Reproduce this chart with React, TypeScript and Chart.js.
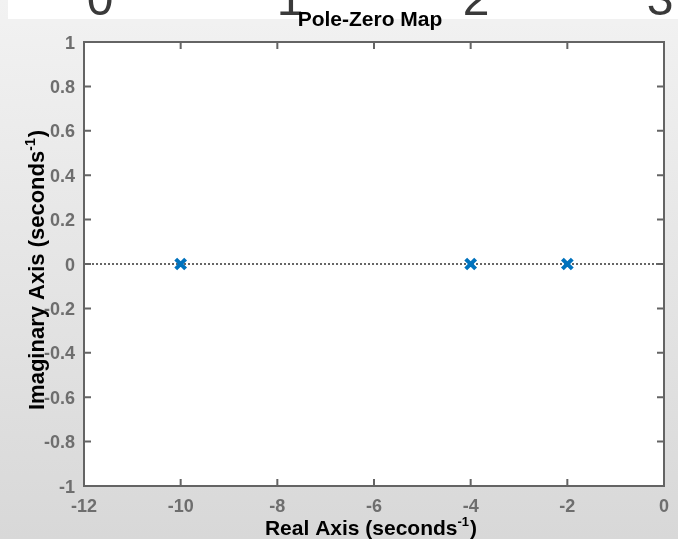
import React, { useEffect, useRef } from "react";
import { Chart, registerables } from "chart.js";

Chart.register(...registerables);

const poleReal: number[] = [-10, -4, -2];
const poleImag: number[] = [0, 0, 0];
const xTicks: number[] = [-12, -10, -8, -6, -4, -2, 0];
const yTicks: number[] = [-1, -0.8, -0.6, -0.4, -0.2, 0, 0.2, 0.4, 0.6, 0.8, 1];
const xTickLabels: string[] = ["-12", "-10", "-8", "-6", "-4", "-2", "0"];
const yTickLabels: string[] = ["-1", "-0.8", "-0.6", "-0.4", "-0.2", "0", "0.2", "0.4", "0.6", "0.8", "1"];
const topDigits: string[] = ["0", "1", "2", "3"];
const topDigitX: number[] = [100, 290, 476, 660];
const titleText = "Pole-Zero Map";
const xTitleMain = "Real Axis (seconds";
const yTitleMain = "Imaginary Axis (seconds";
const supText = "-1";
const tailText = ")";

const FONT = '"Liberation Sans", Arial, Helvetica, sans-serif';
const AXIS_COLOR = "#646464";
const TICK_COLOR = "#6e6e6e";

function drawTitleWithSup(
  ctx: CanvasRenderingContext2D,
  main: string,
  cx: number,
  baseline: number,
  size: number
) {
  const mainFont = `bold ${size}px ${FONT}`;
  const supFont = `bold ${Math.round(size * 0.62)}px ${FONT}`;
  ctx.font = mainFont;
  const wMain = ctx.measureText(main).width;
  const wTail = ctx.measureText(tailText).width;
  ctx.font = supFont;
  const wSup = ctx.measureText(supText).width;
  const total = wMain + wSup + wTail + 1;
  let x = cx - total / 2;
  ctx.textAlign = "left";
  ctx.textBaseline = "alphabetic";
  ctx.fillStyle = "#000000";
  ctx.font = mainFont;
  ctx.fillText(main, x, baseline);
  x += wMain;
  ctx.font = supFont;
  ctx.fillText(supText, x, baseline - size * 0.42);
  x += wSup + 1;
  ctx.font = mainFont;
  ctx.fillText(tailText, x, baseline);
}

const matlabPlugin = {
  id: "matlabAxes",
  beforeDraw(chart: any) {
    const ctx: CanvasRenderingContext2D = chart.ctx;
    const W = chart.width;
    const H = chart.height;
    ctx.save();
    const g = ctx.createLinearGradient(0, 0, 0, H);
    g.addColorStop(0, "#f2f2f2");
    g.addColorStop(1, "#d8d8d8");
    ctx.fillStyle = g;
    ctx.fillRect(0, 0, W, H);
    ctx.fillStyle = "#ffffff";
    ctx.fillRect(8, 0, W - 8, 19);
    ctx.beginPath();
    ctx.rect(8, 0, W - 8, 19);
    ctx.clip();
    ctx.fillStyle = "#3a3a3a";
    ctx.font = `48px ${FONT}`;
    ctx.textAlign = "center";
    ctx.textBaseline = "alphabetic";
    topDigits.forEach((d, i) => ctx.fillText(d, topDigitX[i], 15));
    ctx.restore();
    const a = chart.chartArea;
    ctx.save();
    ctx.fillStyle = "#ffffff";
    ctx.fillRect(a.left, a.top, a.right - a.left, a.bottom - a.top);
    ctx.restore();
  },
  afterDraw(chart: any) {
    const ctx: CanvasRenderingContext2D = chart.ctx;
    const a = chart.chartArea;
    const xs = chart.scales.x;
    const ys = chart.scales.y;
    ctx.save();
    ctx.strokeStyle = AXIS_COLOR;
    ctx.lineWidth = 2;
    ctx.lineCap = "butt";
    ctx.strokeRect(a.left, a.top, a.right - a.left, a.bottom - a.top);
    const tl = 7;
    ctx.beginPath();
    xTicks.forEach((v) => {
      const px = xs.getPixelForValue(v);
      ctx.moveTo(px, a.bottom);
      ctx.lineTo(px, a.bottom - tl);
      ctx.moveTo(px, a.top);
      ctx.lineTo(px, a.top + tl);
    });
    yTicks.forEach((v) => {
      const py = ys.getPixelForValue(v);
      ctx.moveTo(a.left, py);
      ctx.lineTo(a.left + tl, py);
      ctx.moveTo(a.right, py);
      ctx.lineTo(a.right - tl, py);
    });
    ctx.stroke();

    ctx.fillStyle = TICK_COLOR;
    ctx.font = `bold 18px ${FONT}`;
    ctx.textAlign = "center";
    ctx.textBaseline = "alphabetic";
    xTicks.forEach((v, i) => {
      ctx.fillText(xTickLabels[i], xs.getPixelForValue(v), 512);
    });
    ctx.textAlign = "right";
    yTicks.forEach((v, i) => {
      ctx.fillText(yTickLabels[i], 75, ys.getPixelForValue(v) + 6.5);
    });

    ctx.fillStyle = "#000000";
    ctx.font = `bold 21px ${FONT}`;
    ctx.textAlign = "center";
    ctx.fillText(titleText, (a.left + a.right) / 2 - 4, 26);

    drawTitleWithSup(ctx, xTitleMain, (a.left + a.right) / 2 - 3, 535, 21);

    ctx.save();
    ctx.translate(44, (a.top + a.bottom) / 2 + 6);
    ctx.rotate(-Math.PI / 2);
    drawTitleWithSup(ctx, yTitleMain, 0, 0, 22);
    ctx.restore();
    ctx.restore();
  },
};

export default function App() {
  const ref = useRef<HTMLCanvasElement | null>(null);
  useEffect(() => {
    if (!ref.current) return;
    const chart = new Chart(ref.current, {
      type: "scatter",
      data: {
        datasets: [
          {
            type: "scatter",
            label: "Poles",
            data: poleReal.map((x, i) => ({ x, y: poleImag[i] })),
            pointStyle: "crossRot",
            pointRadius: 7,
            pointHoverRadius: 7,
            borderColor: "#0072BD",
            backgroundColor: "#0072BD",
            pointBorderWidth: 4,
            order: 0,
          },
          {
            type: "line",
            label: "Zero line",
            data: [
              { x: xTicks[0], y: 0 },
              { x: xTicks[xTicks.length - 1], y: 0 },
            ],
            borderColor: "#666666",
            borderWidth: 2,
            borderDash: [2, 2],
            pointRadius: 0,
            fill: false,
            order: 1,
          } as any,
        ],
      },
      options: {
        responsive: false,
        animation: false,
        devicePixelRatio: 1,
        layout: { padding: { left: 84, top: 42, right: 14, bottom: 53 } },
        plugins: {
          legend: { display: false },
          tooltip: { enabled: false },
          title: { display: false },
        },
        scales: {
          x: { type: "linear", min: -12, max: 0, display: false },
          y: { type: "linear", min: -1, max: 1, display: false },
        },
      },
      plugins: [matlabPlugin],
    });
    return () => chart.destroy();
  }, []);
  return (
    <div style={{ position: "fixed", left: 0, top: 0, width: 678, height: 539 }}>
      <canvas ref={ref} width={678} height={539} style={{ display: "block", width: 678, height: 539 }} />
    </div>
  );
}
